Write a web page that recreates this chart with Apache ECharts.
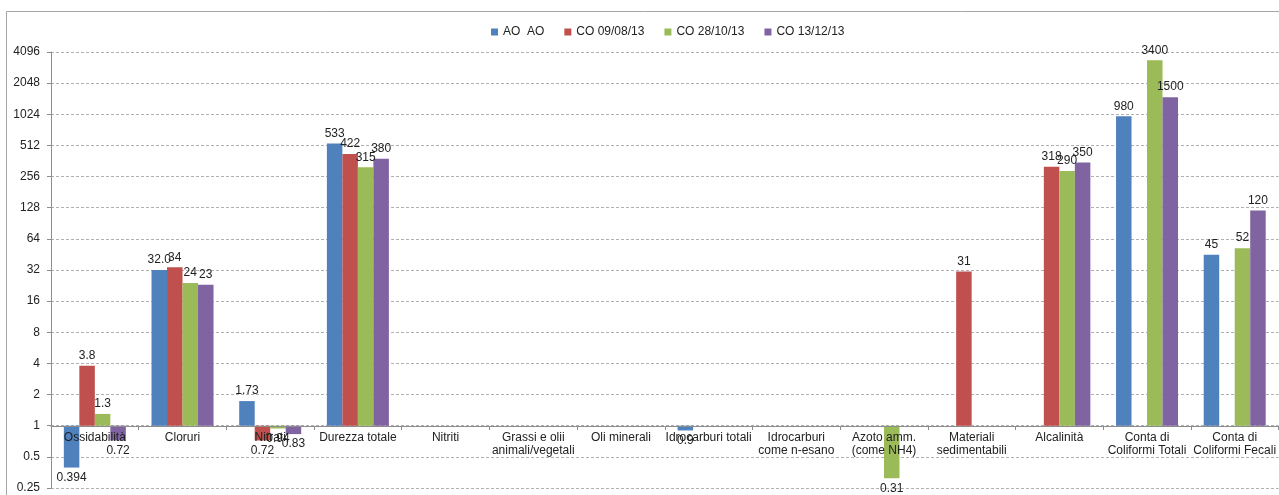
<!DOCTYPE html>
<html>
<head>
<meta charset="utf-8">
<script src="https://cdn.jsdelivr.net/npm/echarts@6/dist/echarts.min.js"></script>
<style>
html,body{margin:0;padding:0;background:#fff;}
#c{width:1279px;height:495px;}
</style>
</head>
<body>
<div id="c"></div>
<script>
const categories = ['Ossidabilità','Cloruri','Nitrati','Durezza totale','Nitriti','Grassi e olii\nanimali/vegetali','Oli minerali','Idrocarburi totali','Idrocarburi\ncome n-esano','Azoto amm.\n(come NH4)','Materiali\nsedimentabili','Alcalinità','Conta di\nColiformi Totali','Conta di\nColiformi Fecali'];
const seriesNames = ['AO  AO','CO 09/08/13','CO 28/10/13','CO 13/12/13'];
const aoValues     = [0.394, '32.0', 1.73, 533, null, null, null, 0.9, null, null, null, null, 980, 45];
const co0908Values = [3.8, 34, 0.72, 422, null, null, null, null, null, null, 31, 318, null, null];
const co2810Values = [1.3, 24, 0.94, 315, null, null, null, null, null, 0.31, null, 290, 3400, 52];
const co1312Values = [0.72, 23, 0.83, 380, null, null, null, null, null, null, null, 350, 1500, 120];
const yMin = 0.25, yMax = 4096;

const colors = ['#4F81BD','#C0504D','#9BBB59','#8064A2'];
const allValues = [aoValues, co0908Values, co2810Values, co1312Values];
const font = '"Liberation Sans", Arial, sans-serif';

const chart = echarts.init(document.getElementById('c'));
chart.setOption({
  animation: false,
  textStyle: {fontFamily: font},
  color: colors,
  graphic: [{
    type: 'rect', silent: true, z: -10,
    shape: {x: 6.5, y: 11.5, width: 1400, height: 600},
    style: {fill: 'none', stroke: '#a6a6a6', lineWidth: 1}
  }],
  legend: {
    top: 21, left: 486,
    itemWidth: 7, itemHeight: 7, itemGap: 20,
    icon: 'rect',
    textStyle: {fontFamily: font, fontSize: 12, color: '#222'},
    data: seriesNames
  },
  grid: {left: 51, right: -1, top: 52, bottom: 7, containLabel: false},
  xAxis: {
    type: 'category',
    data: categories,
    position: 'bottom',
    offset: -62,
    z: 5,
    axisLine: {show: true, lineStyle: {color: '#8c8c8c', width: 1}},
    axisTick: {show: true, length: 4, inside: false, lineStyle: {color: '#8c8c8c'}},
    axisLabel: {interval: 0, margin: 5, fontSize: 12, lineHeight: 13, color: '#222', fontFamily: font},
    splitLine: {show: false}
  },
  yAxis: {
    type: 'log',
    logBase: 2,
    min: yMin, max: yMax,
    interval: 1,
    axisLine: {show: true, lineStyle: {color: '#8c8c8c', width: 1}},
    axisTick: {show: true, length: 4, lineStyle: {color: '#8c8c8c'}},
    axisLabel: {fontSize: 12, color: '#222', margin: 11, fontFamily: font,
      formatter: v => String(Math.round(v * 10000) / 10000)},
    splitLine: {show: true, lineStyle: {color: '#b0b0b0', type: [3, 2], width: 1}}
  },
  series: allValues.map((vals, i) => ({
    type: 'bar',
    name: seriesNames[i],
    data: vals,
    barWidth: 15.5,
    barGap: '0%',
    itemStyle: {color: colors[i]},
    label: {
      show: true,
      position: 'outside',
      distance: 4,
      fontSize: 12,
      color: '#222',
      fontFamily: font,
      formatter: p => String(p.data)
    }
  }))
});
</script>
</body>
</html>
